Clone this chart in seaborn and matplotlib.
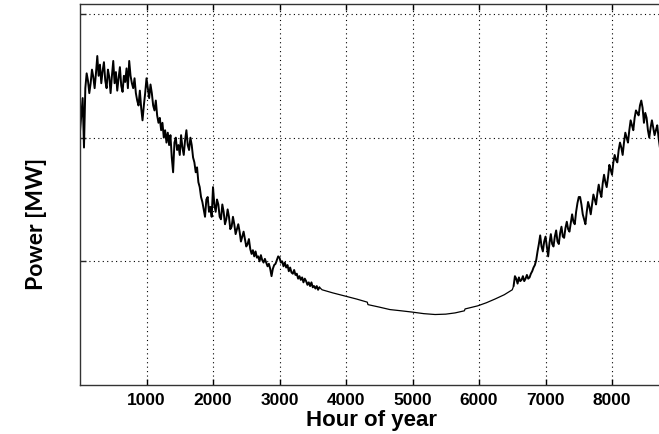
import numpy as np
import pandas as pd
import matplotlib
matplotlib.use("Agg")
import matplotlib.pyplot as plt
import seaborn as sns

# Hourly power profile over a year, sampled every 20 h in the variable seasons
winter_spring_start, winter_spring_step = 0, 20
winter_spring_power = [
    205, 218, 232, 192, 240, 252, 246, 236, 244, 255,
    249, 240, 252, 266, 250, 259, 244, 254, 261, 246,
    240, 255, 249, 236, 250, 262, 244, 253, 238, 248,
    257, 242, 237, 250, 245, 256, 240, 262, 250, 244,
    240, 248, 236, 230, 226, 238, 224, 214, 226, 236,
    248, 240, 232, 243, 236, 226, 222, 230, 218, 212,
    216, 206, 212, 200, 206, 196, 204, 194, 202, 184,
    172, 196, 200, 190, 194, 186, 202, 192, 186, 198,
    206, 194, 190, 200, 194, 184, 180, 172, 176, 164,
    160, 152, 148, 142, 136, 150, 152, 140, 144, 136,
    160, 146, 140, 150, 146, 136, 134, 146, 140, 130,
    134, 142, 136, 126, 128, 136, 130, 122, 126, 130,
    124, 116, 120, 124, 118, 112, 114, 118, 110, 106,
    109, 104, 108, 103, 104, 100, 105, 101, 99, 102,
    99, 96, 98, 94, 88, 94, 97, 98, 101, 104,
    103, 99, 100, 96, 99, 95, 97, 92, 95, 91,
    90, 93, 89, 90, 86, 88, 85, 87, 83, 86,
    84, 81, 83, 80, 83, 79, 80, 78, 80, 77,
    79,
]

# Smooth summer stretch
summer_hours = [3600, 3640, 3800, 3980, 4160, 4320, 4330, 4500, 4660, 4830,
                4990, 5170, 5340, 5500, 5640, 5780, 5790, 5980, 6110, 6240,
                6380, 6500, 6520]
summer_power = [79, 77, 74.5, 72, 69.5, 67, 65, 63, 61, 60,
                59, 57.7, 57, 57.3, 58.3, 60, 61.5, 64, 66.5, 69.5,
                73, 77, 80]

autumn_start, autumn_step = 6520, 20
autumn_power = [
    80, 88, 86, 82, 87, 84, 85, 88, 84, 86,
    89, 86, 87, 90, 92, 95, 97, 101, 108, 114,
    121, 112, 108, 116, 120, 112, 104, 115, 122, 114,
    112, 120, 125, 116, 114, 123, 128, 120, 119, 127,
    132, 126, 124, 131, 138, 132, 130, 140, 147, 152,
    152, 146, 138, 134, 130, 140, 148, 144, 138, 146,
    154, 150, 146, 155, 162, 156, 152, 163, 170, 164,
    160, 168, 178, 174, 170, 180, 186, 182, 180, 190,
    196, 192, 186, 196, 204, 200, 196, 206, 214, 210,
    206, 216, 222, 220, 218, 226, 230, 224, 212, 220,
    216, 206, 200, 208, 214, 208, 202, 206, 210, 200,
    192, 196, 198,
]

x_ticks = [1000, 2000, 3000, 4000, 5000, 6000, 7000, 8000]
y_grid = [100, 200, 300]

winter_spring_hours = winter_spring_start + winter_spring_step * np.arange(len(winter_spring_power))
autumn_hours = autumn_start + autumn_step * np.arange(len(autumn_power))

winter_df = pd.DataFrame({"hour": winter_spring_hours, "power": winter_spring_power})
summer_df = pd.DataFrame({"hour": summer_hours, "power": summer_power})
autumn_df = pd.DataFrame({"hour": autumn_hours, "power": autumn_power})

sns.set_theme(style="white")
plt.rcParams["font.family"] = ["Liberation Sans", "DejaVu Sans"]

fig = plt.figure(figsize=(6.59, 4.35), dpi=100)
ax = fig.add_axes([0.1214, 0.1126, 0.884, 0.8752])

# Fluctuating seasons drawn heavier, the quiet summer stretch as a thin trace
for part, lw in [(winter_df, 1.4), (summer_df, 0.9), (autumn_df, 1.4)]:
    sns.lineplot(data=part, x="hour", y="power", color="black", linewidth=lw,
                 sort=False, estimator=None, ax=ax)

ax.set_xlim(0, 8760)
ax.set_ylim(0, 307.8)
ax.set_xticks(x_ticks)
ax.set_xticklabels([str(t) for t in x_ticks], fontweight="bold", fontsize=12.5)
ax.set_yticks(y_grid)
ax.set_yticklabels([])

ax.grid(True, color="black", linestyle=(0, (1, 3)), linewidth=0.8)
ax.tick_params(axis="x", direction="in", length=4, width=1, top=True,
               bottom=True, pad=5, colors="black")
ax.tick_params(axis="y", direction="in", length=4, width=1, left=True,
               right=False)
for side in ["left", "bottom", "top"]:
    ax.spines[side].set_color("#333333")
    ax.spines[side].set_linewidth(1.0)
ax.spines["right"].set_visible(False)

ax.set_xlabel("Hour of year", fontsize=16, fontweight="bold", color="black")
ax.xaxis.set_label_coords(0.5, -0.063)
ax.set_ylabel("Power [MW]", fontsize=16.5, fontweight="bold", color="black",
              family=["Lato", "DejaVu Sans"])
ax.yaxis.set_label_coords(-0.057, 0.4255)

fig.savefig("out.png", dpi=100)
